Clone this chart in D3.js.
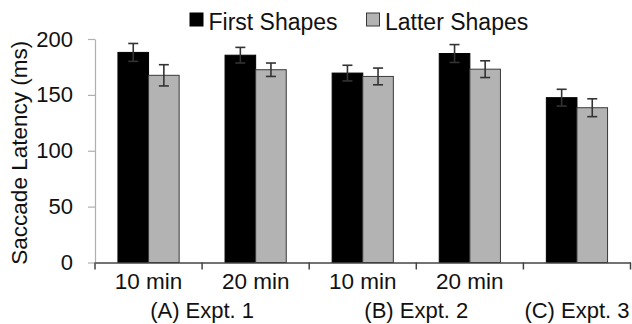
<!DOCTYPE html>
<html>
<head>
<meta charset="utf-8">
<script src="https://cdn.jsdelivr.net/npm/d3@7"></script>
<style>
  html, body { margin: 0; padding: 0; background: #fff; }
  svg { display: block; font-family: "Liberation Sans", Arial, sans-serif; }
</style>
</head>
<body>
<svg id="chart" width="632" height="324"></svg>
<script>
// ---- data ----
const categories = ["10 min", "20 min", "10 min", "20 min", ""];
const groupLabels = ["(A) Expt. 1", "(B) Expt. 2", "(C) Expt. 3"];
const groupSpans = [2, 2, 1];
const seriesNames = ["First Shapes", "Latter Shapes"];
const firstMeans = [188, 185.5, 169.5, 187, 147.5];
const firstErr = [8, 7, 7, 8, 7.5];
const latterMeans = [167.5, 172.5, 166.5, 173, 138.5];
const latterErr = [9.5, 6, 7.5, 7.5, 8];
const yTicks = [0, 50, 100, 150, 200];

// ---- layout ----
const mLeft = 95, mRight = 630.5, mTop = 39, mBottom = 262.5;
const colors = { "First Shapes": "#000000", "Latter Shapes": "#b3b3b3" };
const strokes = { "First Shapes": "#000000", "Latter Shapes": "#3a3a3a" };
const fontFam = "'Liberation Sans', Arial, sans-serif";

const svg = d3.select("#chart");

const idx = categories.map((d, i) => i);
const x0 = d3.scaleBand().domain(idx).range([mLeft, mRight]).padding(0);
const x1 = d3.scaleBand().domain(seriesNames).range([0, x0.bandwidth()])
  .paddingInner(0).paddingOuter(0.75);
const y = d3.scaleLinear().domain([0, 200]).range([mBottom, mTop]);

const data = idx.map(i => ({
  i,
  values: [
    { s: "First Shapes", v: firstMeans[i], e: firstErr[i] },
    { s: "Latter Shapes", v: latterMeans[i], e: latterErr[i] }
  ]
}));

// y axis
const yAxis = svg.append("g")
  .attr("transform", `translate(${mLeft},0)`)
  .call(d3.axisLeft(y).tickValues(yTicks).tickSize(7).tickSizeOuter(0).tickPadding(15));
yAxis.select(".domain").attr("stroke", "#b0b0b0").attr("stroke-width", 1.2);
yAxis.selectAll(".tick line").attr("stroke", "#b0b0b0").attr("stroke-width", 1.2);
yAxis.selectAll(".tick text")
  .attr("font-size", 22).attr("fill", "#111")
  .attr("font-family", fontFam);

// bars
const gCat = svg.append("g").selectAll("g").data(data).join("g")
  .attr("transform", d => `translate(${x0(d.i)},0)`);

gCat.selectAll("rect").data(d => d.values).join("rect")
  .attr("x", d => x1(d.s))
  .attr("y", d => y(d.v))
  .attr("width", x1.bandwidth())
  .attr("height", d => y(0) - y(d.v))
  .attr("fill", d => colors[d.s])
  .attr("stroke", d => strokes[d.s])
  .attr("stroke-width", 1);

// error bars
const cap = 5;
const eb = gCat.selectAll("g.err").data(d => d.values).join("g").attr("class", "err")
  .attr("stroke", "#333").attr("stroke-width", 1.6);
eb.append("line")
  .attr("x1", d => x1(d.s) + x1.bandwidth() / 2)
  .attr("x2", d => x1(d.s) + x1.bandwidth() / 2)
  .attr("y1", d => y(d.v + d.e))
  .attr("y2", d => y(d.v - d.e));
eb.append("line")
  .attr("x1", d => x1(d.s) + x1.bandwidth() / 2 - cap)
  .attr("x2", d => x1(d.s) + x1.bandwidth() / 2 + cap)
  .attr("y1", d => y(d.v + d.e))
  .attr("y2", d => y(d.v + d.e));
eb.append("line")
  .attr("x1", d => x1(d.s) + x1.bandwidth() / 2 - cap)
  .attr("x2", d => x1(d.s) + x1.bandwidth() / 2 + cap)
  .attr("y1", d => y(d.v - d.e))
  .attr("y2", d => y(d.v - d.e));

// x axis
const xAxis = svg.append("g")
  .attr("transform", `translate(0,${y(0)})`)
  .call(d3.axisBottom(x0).tickSize(0).tickPadding(11).tickFormat(i => categories[i]));
xAxis.select(".domain").attr("stroke", "#444").attr("stroke-width", 1.5);
xAxis.selectAll(".tick text")
  .attr("font-size", 22.5).attr("fill", "#111")
  .attr("font-family", fontFam);
// boundary ticks
const bounds = idx.map(i => x0(i)).concat([x0.range()[1]]);
xAxis.selectAll("line.bound").data(bounds).join("line").attr("class", "bound")
  .attr("x1", d => d).attr("x2", d => d)
  .attr("y1", 0).attr("y2", 7)
  .attr("stroke", "#444").attr("stroke-width", 1.5);

// group labels
let start = 0;
const groupPos = groupSpans.map(s => {
  const a = x0(start), b = x0(start + s - 1) + x0.bandwidth();
  start += s;
  return (a + b) / 2;
});
svg.append("g").selectAll("text").data(groupLabels).join("text")
  .attr("x", (d, i) => groupPos[i])
  .attr("y", y(0) + 55.5)
  .attr("text-anchor", "middle")
  .attr("font-size", 22).attr("fill", "#111")
  .text(d => d);

// y label
svg.append("text")
  .attr("transform", `translate(27,${(mTop + mBottom) / 2 + 2}) rotate(-90)`)
  .attr("text-anchor", "middle")
  .attr("font-size", 22.5).attr("fill", "#111")
  .text("Saccade Latency (ms)");

// legend
const legendX = [190, 366.5];
const lg = svg.append("g").selectAll("g").data(seriesNames).join("g")
  .attr("transform", (d, i) => `translate(${legendX[i]},13)`);
lg.append("rect")
  .attr("width", 13).attr("height", 13)
  .attr("fill", d => colors[d])
  .attr("stroke", d => strokes[d]).attr("stroke-width", 1);
lg.append("text")
  .attr("x", 18.5).attr("y", 16.5)
  .attr("font-size", 23).attr("fill", "#111")
  .text(d => d);
</script>
</body>
</html>
